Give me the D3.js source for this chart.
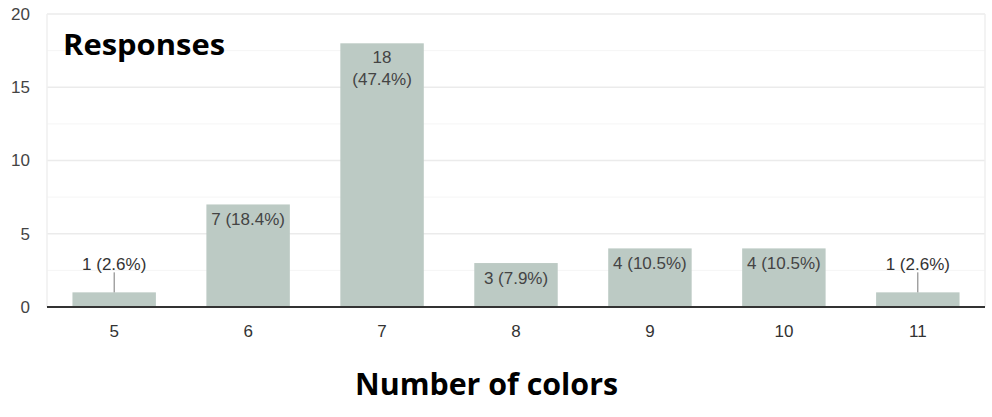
<!DOCTYPE html>
<html>
<head>
<meta charset="utf-8">
<script src="https://cdn.jsdelivr.net/npm/d3@7"></script>
<style>
  body { margin: 0; background: #fff; }
  svg { display: block; }
</style>
</head>
<body>
<svg id="chart" width="992" height="417"></svg>
<script>
// data
const categories = ["5", "6", "7", "8", "9", "10", "11"];
const counts = [1, 7, 18, 3, 4, 4, 1];
const percents = ["2.6%", "18.4%", "47.4%", "7.9%", "10.5%", "10.5%", "2.6%"];
const yTicks = [0, 5, 10, 15, 20];
const yMinorTicks = [2.5, 7.5, 12.5, 17.5];

const svg = d3.select("#chart");
const margin = {top: 14, right: 7, bottom: 110, left: 47};
const width = 992 - margin.left - margin.right;
const height = 417 - margin.top - margin.bottom;

const g = svg.append("g").attr("transform", `translate(${margin.left},${margin.top})`);

const x = d3.scaleBand().domain(categories).range([0, width]).paddingInner(0.377).paddingOuter(0.19);
const y = d3.scaleLinear().domain([0, 20]).range([height, 0]);

const labelFont = "Arial, 'Liberation Sans', sans-serif";
const fontSize = 17;

// minor grid
g.selectAll(".minor").data(yMinorTicks).enter().append("line")
    .attr("x1", 0).attr("x2", width)
    .attr("y1", d => y(d)).attr("y2", d => y(d))
    .attr("stroke", "#f5f5f5").attr("stroke-width", 1);

// major grid
g.selectAll(".major").data(yTicks.slice(1)).enter().append("line")
    .attr("x1", 0).attr("x2", width)
    .attr("y1", d => y(d)).attr("y2", d => y(d))
    .attr("stroke", "#ebebeb").attr("stroke-width", 1.5);

// frame sides
g.append("line").attr("x1", 0).attr("x2", 0).attr("y1", 0).attr("y2", height)
    .attr("stroke", "#efefef").attr("stroke-width", 1.5);
g.append("line").attr("x1", width).attr("x2", width).attr("y1", 0).attr("y2", height)
    .attr("stroke", "#efefef").attr("stroke-width", 1.5);

// y axis labels
const yAxis = d3.axisLeft(y).tickValues(yTicks).tickSize(0).tickPadding(17);
g.append("g").call(yAxis)
    .call(a => a.select(".domain").remove())
    .selectAll("text")
    .attr("font-family", labelFont)
    .attr("font-size", fontSize).attr("fill", "#444");

// bars
g.selectAll(".bar").data(counts).enter().append("rect")
    .attr("x", (d, i) => x(categories[i]))
    .attr("y", d => y(d))
    .attr("width", x.bandwidth())
    .attr("height", d => height - y(d))
    .attr("fill", "#bccac4");

// baseline
g.append("line").attr("x1", 0).attr("x2", width).attr("y1", height).attr("y2", height)
    .attr("stroke", "#333").attr("stroke-width", 2);

// x axis labels
const xAxis = d3.axisBottom(x).tickSize(0).tickPadding(18);
g.append("g").attr("transform", `translate(0,${height})`).call(xAxis)
    .call(a => a.select(".domain").remove())
    .selectAll("text")
    .attr("font-family", labelFont)
    .attr("font-size", fontSize).attr("fill", "#333");

// value labels
counts.forEach((d, i) => {
    const cx = x(categories[i]) + x.bandwidth() / 2;
    const top = y(d);
    if (d <= 1) {
        // outside label with leader line
        g.append("line").attr("x1", cx).attr("x2", cx)
            .attr("y1", top).attr("y2", top - 20)
            .attr("stroke", "#777").attr("stroke-width", 1);
        g.append("text").attr("x", cx).attr("y", top - 22)
            .attr("text-anchor", "middle")
            .attr("font-family", labelFont).attr("font-size", fontSize).attr("fill", "#333")
            .text(`${d} (${percents[i]})`);
    } else if (d >= 15) {
        const t = g.append("text").attr("text-anchor", "middle")
            .attr("font-family", labelFont).attr("font-size", fontSize).attr("fill", "#444");
        t.append("tspan").attr("x", cx).attr("y", top + 20).text(d);
        t.append("tspan").attr("x", cx).attr("y", top + 42).text(`(${percents[i]})`);
    } else {
        g.append("text").attr("x", cx).attr("y", top + 21)
            .attr("text-anchor", "middle")
            .attr("font-family", labelFont).attr("font-size", fontSize).attr("fill", "#444")
            .text(`${d} (${percents[i]})`);
    }
});

// titles
svg.append("text").attr("x", 63).attr("y", 55)
    .attr("font-family", "'Open Sans', sans-serif").attr("font-weight", "bold")
    .attr("font-size", 28).attr("fill", "#000")
    .attr("textLength", 162).attr("lengthAdjust", "spacingAndGlyphs")
    .text("Responses");

svg.append("text").attr("x", 355).attr("y", 395)
    .attr("font-family", "'Open Sans', sans-serif").attr("font-weight", "bold")
    .attr("font-size", 30).attr("fill", "#000")
    .attr("textLength", 263).attr("lengthAdjust", "spacingAndGlyphs")
    .text("Number of colors");
</script>
</body>
</html>
